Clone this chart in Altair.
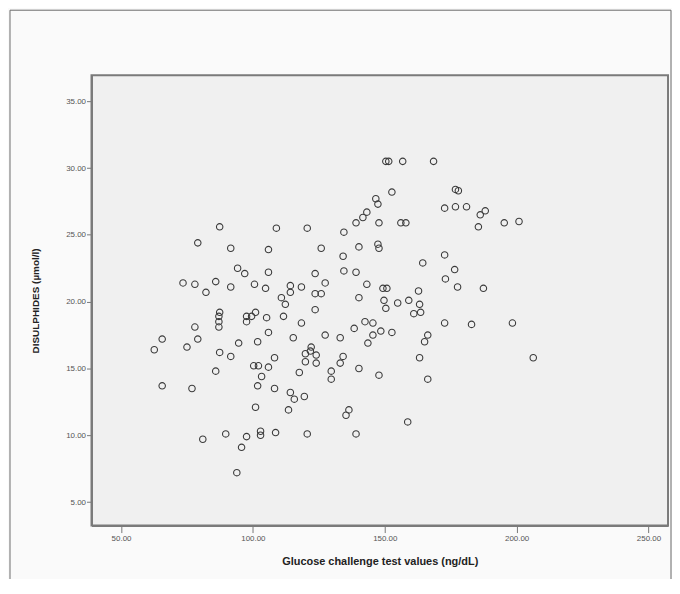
import altair as alt
import pandas as pd

# Glucose challenge test values (ng/dL)
glucose = [
    62.6, 65.6, 65.6, 73.5, 78.0, 82.2, 85.9, 79.1, 87.4, 91.6,
    94.2, 96.9, 91.6, 87.4, 87.1, 87.1, 87.1, 97.6, 97.6, 78.0,
    75.0, 79.1, 94.6, 87.4, 91.6, 85.9, 76.9, 81.0, 89.7, 97.6,
    95.7, 93.9, 108.9, 120.6, 105.9, 125.9, 105.9, 123.6, 100.6, 104.8,
    114.2, 114.2, 118.4, 123.6, 125.9, 127.4, 110.8, 112.3, 123.6, 101.0,
    99.5, 105.2, 111.6, 118.4, 101.8, 105.9, 115.3, 127.4, 100.3, 102.1,
    105.9, 108.2, 103.3, 101.8, 108.2, 119.9, 119.9, 122.1, 124.0, 124.0,
    121.8, 117.6, 114.2, 115.7, 119.5, 113.5, 101.0, 102.9, 102.9, 108.6,
    120.6, 150.4, 151.5, 156.8, 168.5, 152.7, 176.8, 177.9, 172.7, 176.8,
    181.0, 188.1, 186.2, 185.5, 195.3, 200.9, 146.6, 147.4, 143.2, 141.7,
    139.1, 147.8, 156.1, 158.0, 134.5, 140.2, 147.4, 147.8, 134.2, 134.5,
    139.1, 143.2, 149.3, 150.8, 140.2, 149.7, 150.4, 154.9, 159.1, 162.8,
    163.2, 164.4, 172.7, 176.5, 173.0, 177.6, 187.4, 161.0, 163.6, 172.7,
    182.9, 198.4, 133.1, 138.4, 142.5, 145.5, 148.5, 145.5, 143.6, 152.7,
    166.3, 165.1, 134.2, 133.1, 129.7, 129.7, 140.2, 147.8, 163.2, 166.3,
    136.4, 135.3, 158.7, 139.1, 206.3,
]

# DISULPHIDES (µmol/l)
disulphides = [
    16.4, 17.2, 13.7, 21.4, 21.3, 20.7, 21.5, 24.4, 25.6, 24.0,
    22.5, 22.1, 21.1, 19.2, 18.9, 18.5, 18.1, 18.9, 18.5, 18.1,
    16.6, 17.2, 16.9, 16.2, 15.9, 14.8, 13.5, 9.7, 10.1, 9.9,
    9.1, 7.2, 25.5, 25.5, 23.9, 24.0, 22.2, 22.1, 21.3, 21.0,
    21.2, 20.7, 21.1, 20.6, 20.6, 21.4, 20.3, 19.8, 19.4, 19.2,
    18.9, 18.8, 18.9, 18.4, 17.0, 17.7, 17.3, 17.5, 15.2, 15.2,
    15.1, 15.8, 14.4, 13.7, 13.5, 16.1, 15.5, 16.6, 16.0, 15.4,
    16.3, 14.7, 13.2, 12.7, 12.9, 11.9, 12.1, 10.3, 10.0, 10.2,
    10.1, 30.5, 30.5, 30.5, 30.5, 28.2, 28.4, 28.3, 27.0, 27.1,
    27.1, 26.8, 26.5, 25.6, 25.9, 26.0, 27.7, 27.3, 26.7, 26.3,
    25.9, 25.9, 25.9, 25.9, 25.2, 24.1, 24.3, 24.0, 23.4, 22.3,
    22.2, 21.3, 21.0, 21.0, 20.3, 20.1, 19.5, 19.9, 20.1, 20.8,
    19.8, 22.9, 23.5, 22.4, 21.7, 21.1, 21.0, 19.1, 19.2, 18.4,
    18.3, 18.4, 17.3, 18.0, 18.5, 18.4, 17.8, 17.5, 16.9, 17.7,
    17.5, 17.0, 15.9, 15.4, 14.8, 14.2, 15.0, 14.5, 15.8, 14.2,
    11.9, 11.5, 11.0, 10.1, 15.8,
]

x_ticks = [50, 100, 150, 200, 250]
y_ticks = [5, 10, 15, 20, 25, 30, 35]

df = pd.DataFrame({"glucose": glucose, "disulphides": disulphides})
one = pd.DataFrame({"k": [0]})

W, H = 580, 453

points = alt.Chart(df).mark_point(
    shape="circle", filled=False, size=42, strokeWidth=1.1, color="#3a3a3a", opacity=1
).encode(
    x=alt.X(
        "glucose:Q",
        scale=alt.Scale(domain=[38.8, 257.4], nice=False, zero=False),
        axis=alt.Axis(
            values=x_ticks, format=".2f", grid=False,
            title="Glucose challenge test values (ng/dL)",
            titleX=W / 2, titleY=36, titleBaseline="middle",
            titleFontSize=11, titleFontWeight="bold", titleColor="#222",
            titleFont="Liberation Sans",
            labelFontSize=8, labelColor="#555", labelFont="Liberation Sans",
            labelPadding=2, tickSize=7, tickColor="#777",
            domainColor="#7a7a7a", domainWidth=2,
        ),
    ),
    y=alt.Y(
        "disulphides:Q",
        scale=alt.Scale(domain=[3.24, 36.94], nice=False, zero=False),
        axis=alt.Axis(
            values=y_ticks, format=".2f", grid=False,
            title="DISULPHIDES (µmol/l)",
            titleX=-56, titleY=H / 2, titleAngle=-90, titleBaseline="middle",
            titleAlign="center",
            titleFontSize=10, titleFontWeight="bold", titleColor="#222",
            titleFont="Liberation Sans",
            labelFontSize=8, labelColor="#555", labelFont="Liberation Sans",
            labelPadding=1, tickSize=5, tickColor="#777",
            domainColor="#7a7a7a", domainWidth=2,
        ),
    ),
)

frame_col = "#6a6a6a"
left_line = alt.Chart(one).mark_rule(color=frame_col, strokeWidth=1).encode(
    x=alt.value(-82), y=alt.value(-65.5), y2=alt.value(520)
)
top_line = alt.Chart(one).mark_rule(color=frame_col, strokeWidth=1).encode(
    x=alt.value(-82), x2=alt.value(583), y=alt.value(-65.5)
)
right_line = alt.Chart(one).mark_rule(color=frame_col, strokeWidth=1).encode(
    x=alt.value(583), y=alt.value(-65.5), y2=alt.value(520)
)

chart = alt.layer(left_line, top_line, right_line, points).properties(
    width=W, height=H,
    padding={"left": 84, "top": 66, "right": 4, "bottom": 52},
    autosize=alt.AutoSizeParams(type="none"),
    background="#fafafa",
).configure_view(
    fill="#f0f0f0", stroke="#7a7a7a", strokeWidth=2
)

chart.save("out.html", embed_options={"renderer": "svg", "actions": False})
